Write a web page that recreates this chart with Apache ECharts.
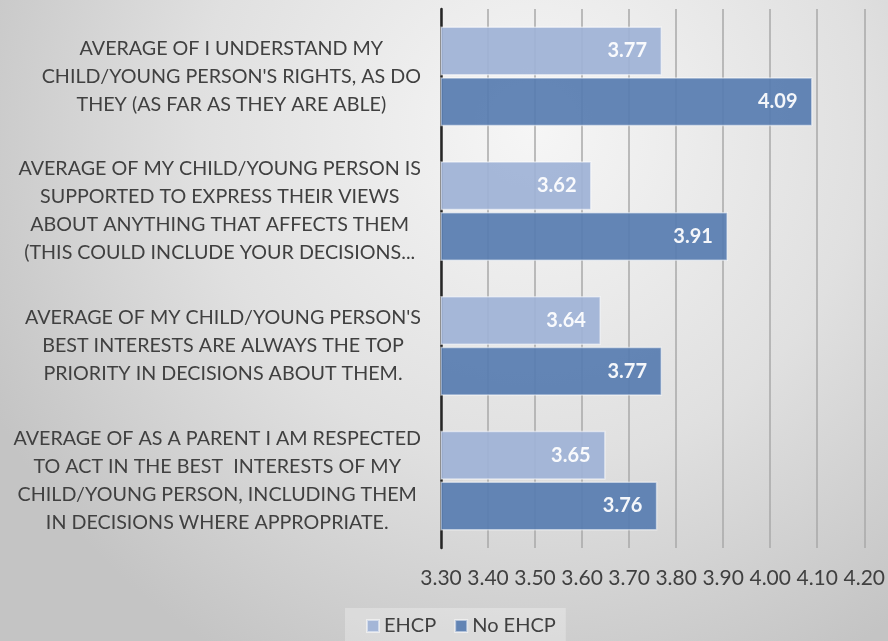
<!DOCTYPE html>
<html>
<head>
<meta charset="utf-8">
<script src="https://cdn.jsdelivr.net/npm/echarts@6/dist/echarts.min.js"></script>
<style>
  html, body { margin: 0; padding: 0; }
  #chart { width: 888px; height: 641px; }
</style>
</head>
<body>
<div id="chart"></div>
<script>
// Survey statements (each line is one wrapped row of the axis label)
const categories = [
  ["AVERAGE OF I UNDERSTAND MY", "CHILD/YOUNG PERSON'S RIGHTS, AS DO", "THEY (AS FAR AS THEY ARE ABLE)"],
  ["AVERAGE OF MY CHILD/YOUNG PERSON IS", "SUPPORTED TO EXPRESS THEIR VIEWS", "ABOUT ANYTHING THAT AFFECTS THEM", "(THIS COULD INCLUDE YOUR DECISIONS..."],
  ["AVERAGE OF MY CHILD/YOUNG PERSON'S", "BEST INTERESTS ARE ALWAYS THE TOP", "PRIORITY IN DECISIONS ABOUT THEM."],
  ["AVERAGE OF AS A PARENT I AM RESPECTED", "TO ACT IN THE BEST  INTERESTS OF MY", "CHILD/YOUNG PERSON, INCLUDING THEM", "IN DECISIONS WHERE APPROPRIATE."]
];
const seriesNames = ["EHCP", "No EHCP"];
const ehcpValues = [3.77, 3.62, 3.64, 3.65];
const noEhcpValues = [4.09, 3.91, 3.77, 3.76];
const axisMin = 3.3;
const axisMax = 4.2;
const axisStep = 0.1;

const FONT = "Lato, 'Open Sans', sans-serif";
const TEXT = '#404040';

const chart = echarts.init(document.getElementById('chart'), null, { renderer: 'canvas' });

const barLabel = {
  show: true,
  position: 'insideRight',
  distance: 15,
  color: '#ffffff',
  fontFamily: FONT,
  fontWeight: 'bold',
  fontSize: 20,
  formatter: p => p.value.toFixed(2)
};

chart.setOption({
  backgroundColor: {
    type: 'radial', x: 0.6, y: 0.2, r: 0.95,
    colorStops: [
      { offset: 0, color: '#f6f6f6' },
      { offset: 0.55, color: '#e0e0e0' },
      { offset: 1, color: '#c4c4c4' }
    ]
  },
  animation: false,
  grid: { left: 441, right: 21, top: 9, bottom: 93, containLabel: false },
  legend: {
    data: seriesNames,
    left: 345,
    top: 608,
    padding: [8, 10, 12, 21],
    itemGap: 18,
    itemWidth: 12,
    itemHeight: 12,
    icon: 'rect',
    backgroundColor: 'rgba(255,255,255,0.28)',
    textStyle: { color: TEXT, fontFamily: FONT, fontSize: 20 }
  },
  xAxis: {
    type: 'value',
    min: axisMin,
    max: axisMax,
    interval: axisStep,
    axisLine: { show: false },
    axisTick: { show: false },
    splitLine: { show: true, lineStyle: { color: '#a8a8a8', width: 1.5 } },
    axisLabel: {
      color: TEXT, fontFamily: FONT, fontSize: 21, margin: 20,
      formatter: v => v.toFixed(2)
    }
  },
  yAxis: {
    type: 'category',
    inverse: true,
    data: categories.map(lines => lines.join('\n')),
    axisLine: { show: true, lineStyle: { color: '#262626', width: 2.5 } },
    axisTick: { show: false },
    axisLabel: {
      align: 'right',
      margin: 20,
      color: TEXT,
      fontFamily: FONT,
      fontSize: 19.7,
      lineHeight: 28,
      formatter: v => v.split('\n').map(l => '{c|' + l + '}').join('\n'),
      rich: { c: { align: 'center', color: TEXT, fontFamily: FONT, fontSize: 19.7, lineHeight: 28 } }
    }
  },
  series: [
    {
      name: seriesNames[0], type: 'bar', data: ehcpValues,
      barGap: '4%', barCategoryGap: '26%',
      itemStyle: { color: '#9fb3d6', opacity: 0.93, borderColor: 'rgba(255,255,255,0.55)', borderWidth: 1.5 },
      label: barLabel
    },
    {
      name: seriesNames[1], type: 'bar', data: noEhcpValues,
      barGap: '4%', barCategoryGap: '26%',
      itemStyle: { color: '#587db0', opacity: 0.93, borderColor: 'rgba(255,255,255,0.55)', borderWidth: 1.5 },
      label: barLabel
    }
  ]
});
</script>
</body>
</html>
